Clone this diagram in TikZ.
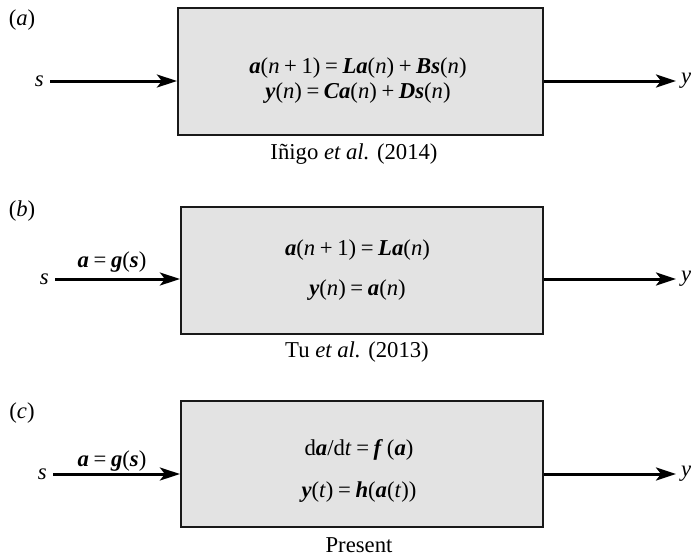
\documentclass[tikz,border=0pt]{standalone}
\usepackage{fontspec}
\setmainfont{Liberation Serif}
\usetikzlibrary{arrows.meta}
\newcommand{\bvec}[1]{\textbf{\textit{#1}}}
\newcommand{\iv}[1]{\textit{#1}}
\newcommand{\gapsp}{\hspace{4.6pt}}
\begin{document}
\begin{tikzpicture}[x=1pt,y=-1pt,
  every node/.style={font=\fontsize{22.7}{27}\selectfont},
  sysbox/.style={draw=black!90,line width=2.2pt,fill=black!11,inner sep=0pt},
  arr/.style={line width=3pt,-{Stealth[length=20pt,width=13pt,inset=5pt]}},
  inlab/.style={anchor=east,inner xsep=6pt,inner ysep=0pt},
  outlab/.style={anchor=west,inner xsep=5pt,inner ysep=0pt},
  eqn/.style={inner sep=0pt},
  panel/.style={inner sep=0pt}]
\useasboundingbox (0,0) rectangle (691,557);

% ---------- (a)
\node[panel] (pa) at (22,20) {(\iv{a})};
\node[sysbox,minimum width=365pt,minimum height=127pt] (boxa) at (360.5,71.5) {};
\node[eqn] (ea1) at (358,68) {\bvec{a}(\iv{n}\gapsp+\gapsp1)\gapsp=\gapsp\bvec{La}(\iv{n})\gapsp+\gapsp\bvec{Bs}(\iv{n})};
\node[eqn] (ea2) at (358,93) {\bvec{y}(\iv{n})\gapsp=\gapsp\bvec{Ca}(\iv{n})\gapsp+\gapsp\bvec{Ds}(\iv{n})};
\node[panel] (capa) at (354,154) {Iñigo \iv{et al.} (2014)};
\node[inlab] (sa) at (50,81) {\iv{s}};
\node[outlab] (ya) at (676,81) {\iv{y}};
\draw[arr] (sa.east) -- (sa.east -| boxa.west);
\draw[arr] (ya.west -| boxa.east) -- (ya.west);

% ---------- (b)
\node[panel] (pb) at (22,211) {(\iv{b})};
\node[sysbox,minimum width=362pt,minimum height=127pt] (boxb) at (362,270.5) {};
\node[eqn] (eb1) at (357.5,250) {\bvec{a}(\iv{n}\gapsp+\gapsp1)\gapsp=\gapsp\bvec{La}(\iv{n})};
\node[eqn] (eb2) at (357.5,290) {\bvec{y}(\iv{n})\gapsp=\gapsp\bvec{a}(\iv{n})};
\node[panel] (capb) at (357,352) {Tu \iv{et al.} (2013)};
\node[inlab] (sb) at (55,279) {\iv{s}};
\node[outlab] (yb) at (676,279) {\iv{y}};
\node[panel] (gb) at (112,262) {\bvec{a}\gapsp=\gapsp\bvec{g}(\bvec{s})};
\draw[arr] (sb.east) -- (sb.east -| boxb.west);
\draw[arr] (yb.west -| boxb.east) -- (yb.west);

% ---------- (c)
\node[panel] (pc) at (22,413) {(\iv{c})};
\node[sysbox,minimum width=362pt,minimum height=126pt] (boxc) at (362,464) {};
\node[eqn] (ec1) at (359,450) {d\bvec{a}/d\iv{t}\gapsp=\gapsp\bvec{f}\,(\bvec{a})};
\node[eqn] (ec2) at (359,492) {\bvec{y}(\iv{t})\gapsp=\gapsp\bvec{h}(\bvec{a}(\iv{t}))};
\node[panel] (capc) at (359,545) {Present};
\node[inlab] (sc) at (53,474) {\iv{s}};
\node[outlab] (yc) at (676,474) {\iv{y}};
\node[panel] (gc) at (112,461) {\bvec{a}\gapsp=\gapsp\bvec{g}(\bvec{s})};
\draw[arr] (sc.east) -- (sc.east -| boxc.west);
\draw[arr] (yc.west -| boxc.east) -- (yc.west);
\end{tikzpicture}
\end{document}
